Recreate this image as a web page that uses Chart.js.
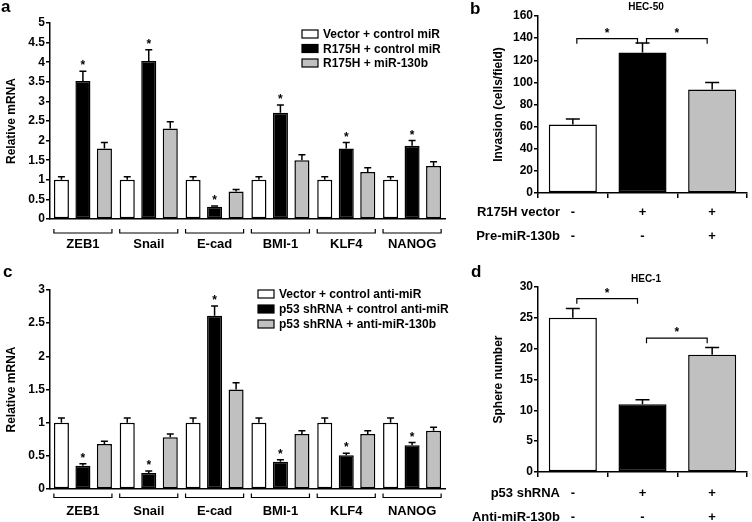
<!DOCTYPE html>
<html>
<head>
<meta charset="utf-8">
<script src="https://cdn.jsdelivr.net/npm/chart.js@4.4.1/dist/chart.umd.min.js"></script>
<style>
  html, body { margin: 0; padding: 0; background: #fff; }
  #wrap { position: relative; width: 752px; height: 522px; overflow: hidden; background: #fff; }
  .panel { position: absolute; }
  .letter { position: absolute; font: bold 17px/17px "Liberation Sans", Arial, sans-serif; color: #000; }
</style>
</head>
<body>
<div id="wrap">
  <div class="panel" style="left:0;top:0;width:470px;height:260px"><canvas id="chartA" width="470" height="260"></canvas></div>
  <div class="panel" style="left:470px;top:0;width:282px;height:260px"><canvas id="chartB" width="282" height="260"></canvas></div>
  <div class="panel" style="left:0;top:260px;width:470px;height:262px"><canvas id="chartC" width="470" height="262"></canvas></div>
  <div class="panel" style="left:470px;top:260px;width:282px;height:262px"><canvas id="chartD" width="282" height="262"></canvas></div>
  <div class="letter" style="left:1px;top:-2px">a</div>
  <div class="letter" style="left:470px;top:0px">b</div>
  <div class="letter" style="left:3px;top:263px">c</div>
  <div class="letter" style="left:471px;top:263px">d</div>
</div>
<script>
// genes shared by panels a and c
var genes = ['ZEB1', 'Snail', 'E-cad', 'BMI-1', 'KLF4', 'NANOG'];

// panel a
var aSeries = ['Vector + control miR', 'R175H + control miR', 'R175H + miR-130b'];
var aVector = [1, 1, 1, 1, 1, 1];
var aVectorErr = [0.08, 0.08, 0.08, 0.08, 0.08, 0.08];
var aR175H = [3.52, 4.03, 0.31, 2.71, 1.80, 1.87];
var aR175HErr = [0.25, 0.29, 0.02, 0.2, 0.15, 0.13];
var aMiR = [1.80, 2.31, 0.70, 1.50, 1.20, 1.35];
var aMiRErr = [0.15, 0.17, 0.05, 0.14, 0.11, 0.11];
var aStars = [true, true, true, true, true, true];
var aTicks = ['0', '0.5', '1', '1.5', '2', '2.5', '3', '3.5', '4', '4.5', '5'];

// panel c
var cSeries = ['Vector + control anti-miR', 'p53 shRNA + control anti-miR', 'p53 shRNA + anti-miR-130b'];
var cVector = [1, 1, 1, 1, 1, 1];
var cVectorErr = [0.07, 0.07, 0.07, 0.07, 0.07, 0.07];
var cShRNA = [0.35, 0.24, 2.61, 0.41, 0.51, 0.66];
var cShRNAErr = [0.03, 0.03, 0.15, 0.03, 0.03, 0.04];
var cAnti = [0.68, 0.78, 1.50, 0.83, 0.83, 0.88];
var cAntiErr = [0.04, 0.05, 0.10, 0.05, 0.05, 0.05];
var cStars = [true, true, true, true, true, true];
var cTicks = ['0', '0.5', '1', '1.5', '2', '2.5', '3'];

// panel b
var bTitle = 'HEC-50';
var bRows = ['R175H vector', 'Pre-miR-130b'];
var bSigns = [['-', '-'], ['+', '-'], ['+', '+']];
var bValues = [62, 127, 93.5];
var bErr = [4.8, 8.5, 6.5];
var bPairs = [[0, 1], [1, 2]];
var bTicks = ['0', '20', '40', '60', '80', '100', '120', '140', '160'];

// panel d
var dTitle = 'HEC-1';
var dRows = ['p53 shRNA', 'Anti-miR-130b'];
var dSigns = [['-', '-'], ['+', '-'], ['+', '+']];
var dValues = [25, 11, 19];
var dErr = [1.5, 0.7, 1.2];
var dPairs = [[0, 1], [1, 2]];
var dTicks = ['0', '5', '10', '15', '20', '25', '30'];

var FONT = '"Liberation Sans", Arial, Helvetica, sans-serif';
var GRAY = '#c0c0c0';
Chart.defaults.font.family = FONT;
Chart.defaults.font.weight = 'bold';
Chart.defaults.color = '#000';
Chart.defaults.animation = false;
Chart.defaults.responsive = false;
Chart.defaults.plugins.legend.display = false;
Chart.defaults.plugins.tooltip.enabled = false;

// upward error bars, plus a star over flagged bars
var errorBars = {
  id: 'errorBars',
  afterDatasetsDraw: function (chart, args, opts) {
    var ctx = chart.ctx, y = chart.scales.y;
    ctx.save();
    ctx.strokeStyle = '#000';
    ctx.lineWidth = 1.5;
    ctx.fillStyle = '#000';
    ctx.font = 'bold 12px ' + FONT;
    ctx.textAlign = 'center';
    ctx.textBaseline = 'alphabetic';
    chart.data.datasets.forEach(function (ds, d) {
      var meta = chart.getDatasetMeta(d);
      meta.data.forEach(function (bar, i) {
        var top = y.getPixelForValue(ds.data[i] + ds.errors[i]);
        ctx.beginPath();
        ctx.moveTo(bar.x, bar.y);
        ctx.lineTo(bar.x, top);
        ctx.moveTo(bar.x - opts.cap, top);
        ctx.lineTo(bar.x + opts.cap, top);
        ctx.stroke();
        if (ds.stars && ds.stars[i]) ctx.fillText('*', bar.x, top - 2);
      });
    });
    ctx.restore();
  }
};

// bracket under each gene group
var groupBrackets = {
  id: 'groupBrackets',
  afterDraw: function (chart, args, opts) {
    var ctx = chart.ctx;
    var first = chart.getDatasetMeta(0).data;
    var last = chart.getDatasetMeta(chart.data.datasets.length - 1).data;
    var yb = chart.chartArea.bottom + opts.offset;
    ctx.save();
    ctx.strokeStyle = '#000';
    ctx.lineWidth = 1.2;
    first.forEach(function (b, i) {
      var x1 = b.x - b.width / 2, x2 = last[i].x + last[i].width / 2;
      ctx.beginPath();
      ctx.moveTo(x1, yb - 4);
      ctx.lineTo(x1, yb);
      ctx.lineTo(x2, yb);
      ctx.lineTo(x2, yb - 4);
      ctx.stroke();
    });
    ctx.restore();
  }
};

// boxed legend
var boxLegend = {
  id: 'boxLegend',
  afterDraw: function (chart, args, opts) {
    var ctx = chart.ctx;
    ctx.save();
    ctx.font = 'bold 12px ' + FONT;
    ctx.textBaseline = 'middle';
    ctx.textAlign = 'left';
    chart.data.datasets.forEach(function (ds, d) {
      var cy = opts.y + d * opts.row;
      ctx.fillStyle = ds.backgroundColor;
      ctx.fillRect(opts.x, cy - 4, 16, 8);
      ctx.strokeStyle = '#000';
      ctx.lineWidth = 1.2;
      ctx.strokeRect(opts.x, cy - 4, 16, 8);
      ctx.fillStyle = '#000';
      ctx.fillText(ds.label, opts.x + 21, cy + 1);
    });
    ctx.restore();
  }
};

// significance brackets, title and row names for b and d
var compare = {
  id: 'compare',
  afterDraw: function (chart, args, opts) {
    var ctx = chart.ctx, y = chart.scales.y;
    var bars = chart.getDatasetMeta(0).data;
    ctx.save();
    ctx.strokeStyle = '#000';
    ctx.fillStyle = '#000';
    ctx.lineWidth = 1.2;
    opts.pairs.forEach(function (p, k) {
      var x1 = bars[p[0]].x + 4, x2 = bars[p[1]].x - 5;
      var yy = y.getPixelForValue(opts.levels[k]);
      ctx.beginPath();
      ctx.moveTo(x1, yy + 5);
      ctx.lineTo(x1, yy);
      ctx.lineTo(x2, yy);
      ctx.lineTo(x2, yy + 5);
      ctx.stroke();
      ctx.font = 'bold 12px ' + FONT;
      ctx.textAlign = 'center';
      ctx.textBaseline = 'alphabetic';
      ctx.fillText('*', (x1 + x2) / 2, yy - 2);
    });
    ctx.font = 'bold 10px ' + FONT;
    ctx.textAlign = 'center';
    ctx.textBaseline = 'middle';
    ctx.fillText(opts.title, opts.titleX, opts.titleY);
    ctx.font = 'bold 13px ' + FONT;
    ctx.textAlign = 'right';
    opts.rows.forEach(function (r, k) {
      ctx.fillText(r, opts.rowX, chart.chartArea.bottom + opts.rowY + k * 24);
    });
    ctx.restore();
  }
};

function yAxis(max, step, labels, title, width) {
  return {
    min: 0, max: max,
    ticks: { stepSize: step, padding: 1, font: { size: 12, weight: 'bold' },
      callback: function (v, i) { return labels[i]; } },
    grid: { drawOnChartArea: false, tickLength: 4, color: '#000', lineWidth: 1.5 },
    border: { color: '#000', width: 1.5 },
    title: { display: true, text: title, font: { size: 12, weight: 'bold' }, padding: { top: 4, bottom: 0 } },
    afterFit: function (s) { s.width = width; }
  };
}

function groupedChart(id, series, sets, stars, max, step, ticks, pad, xHeight, labelPad, legendPos, bracketOffset) {
  var colors = ['#ffffff', '#000000', GRAY];
  return new Chart(document.getElementById(id), {
    type: 'bar',
    data: {
      labels: genes,
      datasets: sets.map(function (s, k) {
        return {
          label: series[k], data: s[0], errors: s[1], stars: k === 1 ? stars : null,
          backgroundColor: colors[k], borderColor: '#000', borderWidth: 1.5, borderSkipped: false,
          categoryPercentage: 0.98, barPercentage: 0.7
        };
      })
    },
    options: {
      layout: { padding: pad },
      scales: {
        x: {
          ticks: { padding: labelPad, font: { size: 13, weight: 'bold' } },
          grid: { drawOnChartArea: false, drawTicks: false },
          border: { color: '#000', width: 1.5 },
          afterFit: function (s) { s.height = xHeight; }
        },
        y: yAxis(max, step, ticks, 'Relative mRNA', 50)
      },
      plugins: {
        errorBars: { cap: 3.5 },
        groupBrackets: { offset: bracketOffset },
        boxLegend: legendPos
      }
    },
    plugins: [errorBars, groupBrackets, boxLegend]
  });
}

function simpleChart(id, values, errs, signs, max, step, ticks, yTitle, pad, xHeight, labelPad, cmp) {
  return new Chart(document.getElementById(id), {
    type: 'bar',
    data: {
      labels: signs,
      datasets: [{
        data: values, errors: errs,
        backgroundColor: ['#ffffff', '#000000', GRAY], borderColor: '#000', borderWidth: 1.5, borderSkipped: false,
        categoryPercentage: 1, barPercentage: 0.69
      }]
    },
    options: {
      layout: { padding: pad },
      scales: {
        x: {
          ticks: { padding: labelPad, font: { size: 13, weight: 'bold', lineHeight: '24px' } },
          grid: { offset: true, drawOnChartArea: false, tickLength: 5, color: '#000', lineWidth: 1.5 },
          border: { color: '#000', width: 1.5 },
          afterFit: function (s) { s.height = xHeight; }
        },
        y: yAxis(max, step, ticks, yTitle, 51)
      },
      plugins: {
        errorBars: { cap: 7 },
        compare: cmp
      }
    },
    plugins: [errorBars, compare]
  });
}

groupedChart('chartA', aSeries,
  [[aVector, aVectorErr], [aR175H, aR175HErr], [aMiR, aMiRErr]], aStars,
  5, 0.5, aTicks, { left: 0, top: 23, right: 25, bottom: 0 }, 41, 18, { x: 302, y: 34, row: 14.5 }, 14);

groupedChart('chartC', cSeries,
  [[cVector, cVectorErr], [cShRNA, cShRNAErr], [cAnti, cAntiErr]], cStars,
  3, 0.5, cTicks, { left: 0, top: 30, right: 25, bottom: 0 }, 33, 14.5, { x: 258, y: 34, row: 15 }, 8.5);

simpleChart('chartB', bValues, bErr, bSigns, 160, 20, bTicks, 'Invasion (cells/field)',
  { left: 17, top: 16, right: 5, bottom: 0 }, 67, 2,
  { pairs: bPairs, levels: [139.5, 139.5], title: bTitle, titleX: 176, titleY: 7, rows: bRows, rowX: 90, rowY: 19 });

simpleChart('chartD', dValues, dErr, dSigns, 30, 5, dTicks, 'Sphere number',
  { left: 17, top: 27, right: 5, bottom: 0 }, 50, 4,
  { pairs: dPairs, levels: [28.1, 21.7], title: dTitle, titleX: 176, titleY: 19, rows: dRows, rowX: 90, rowY: 21 });
</script>
</body>
</html>
